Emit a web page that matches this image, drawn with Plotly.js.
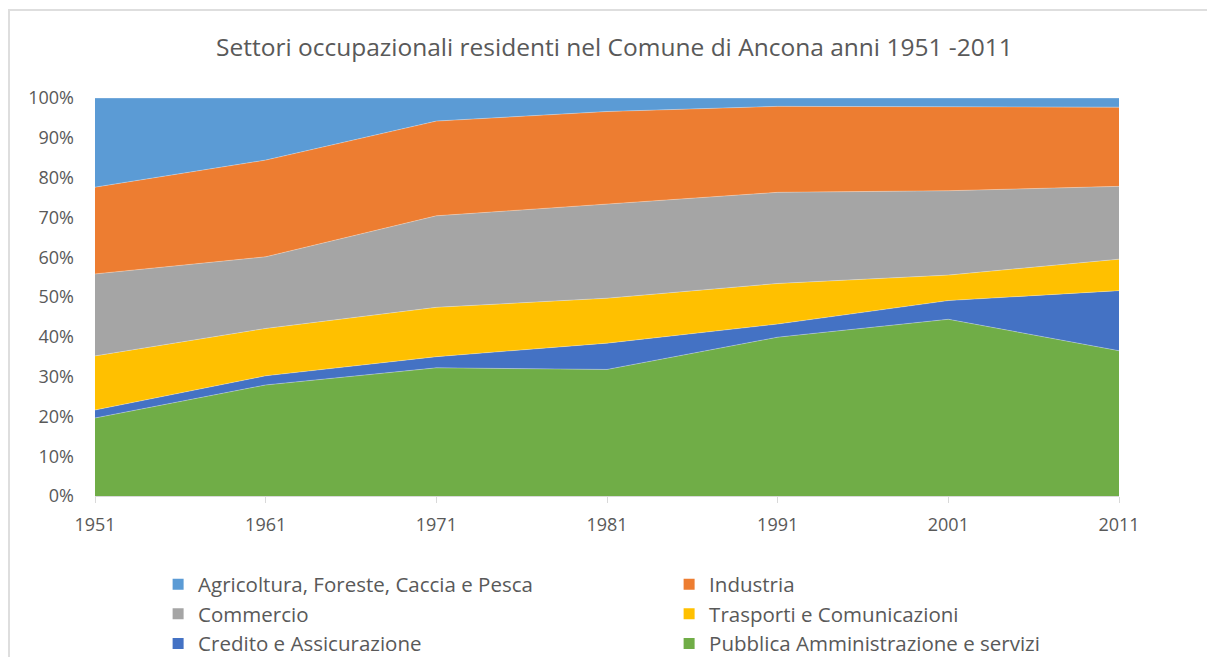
<!DOCTYPE html>
<html>
<head>
<meta charset="utf-8">
<script src="https://cdn.plot.ly/plotly-3.0.1.min.js"></script>
<style>
html,body{margin:0;padding:0;background:#fff;}
#frame{position:absolute;left:8px;top:9px;width:1210px;height:660px;border:2px solid #dedede;box-sizing:border-box;}
#chart{position:absolute;left:0;top:0;width:1207px;height:657px;}
</style>
</head>
<body>
<div id="frame"></div>
<div id="chart"></div>
<script>
const years = ['1951','1961','1971','1981','1991','2001','2011'];
const agricoltura = [22.4, 15.6, 5.8, 3.4, 2.1, 2.2, 2.3];
const industria = [21.8, 24.3, 23.8, 23.2, 21.6, 21.1, 19.9];
const commercio = [20.6, 18.0, 23.0, 23.7, 22.9, 21.2, 18.3];
const trasporti = [13.6, 11.9, 12.4, 11.3, 10.2, 6.4, 7.9];
const credito = [2.0, 2.3, 2.8, 6.6, 3.3, 4.7, 15.1];
const pubblica = [19.6, 27.9, 32.2, 31.8, 39.9, 44.4, 36.5];

const seriesNames = ['Pubblica Amministrazione e servizi','Credito e Assicurazione','Trasporti e Comunicazioni','Commercio','Industria','Agricoltura, Foreste, Caccia e Pesca'];
const seriesData = [pubblica, credito, trasporti, commercio, industria, agricoltura];
const colors = ['#70AD47','#4472C4','#FFC000','#A5A5A5','#ED7D31','#5B9BD5'];

const traces = seriesData.map((d, i) => ({
  type: 'scatter',
  mode: 'lines',
  x: years,
  y: d,
  name: seriesNames[i],
  stackgroup: 'one',
  groupnorm: i === 0 ? 'percent' : undefined,
  line: {width: 0.6, color: 'rgba(255,255,255,0.5)'},
  fillcolor: colors[i],
  showlegend: false,
  legendgroup: seriesNames[i],
  hoverinfo: 'x+y+name'
}));

// legend-only entries with square swatches (Excel style), in legend order
const legendOrder = [5, 4, 3, 2, 1, 0];
legendOrder.forEach(i => {
  traces.push({
    type: 'scatter',
    mode: 'markers',
    x: [null],
    y: [null],
    name: seriesNames[i],
    legendgroup: seriesNames[i],
    marker: {symbol: 'square', size: 11, color: colors[i]},
    showlegend: true,
    hoverinfo: 'skip'
  });
});

const layout = {
  width: 1207,
  height: 657,
  margin: {l: 95, r: 88, t: 98, b: 161},
  paper_bgcolor: 'rgba(0,0,0,0)',
  plot_bgcolor: '#fff',
  font: {family: 'Open Sans, sans-serif', color: '#595959'},
  title: {
    text: 'Settori occupazionali residenti nel Comune di Ancona anni 1951 -2011',
    font: {size: 24.5, color: '#595959'},
    x: 0.509, xanchor: 'center',
    y: 0.928, yanchor: 'middle'
  },
  xaxis: {
    type: 'category',
    range: [0, 6],
    showgrid: false,
    showline: true,
    linecolor: '#d9d9d9',
    linewidth: 1,
    ticks: 'outside',
    ticklen: 6,
    tickcolor: '#d9d9d9',
    tickfont: {size: 18, color: '#595959'},
    ticklabelstandoff: 6,
    zeroline: false
  },
  yaxis: {
    range: [0, 100],
    tickvals: [0,10,20,30,40,50,60,70,80,90,100],
    ticktext: ['0%','10%','20%','30%','40%','50%','60%','70%','80%','90%','100%'],
    showgrid: false,
    showline: false,
    zeroline: false,
    tickfont: {size: 18, color: '#595959'},
    ticks: '',
    ticklabelstandoff: 20
  },
  showlegend: true,
  legend: {
    orientation: 'h',
    traceorder: 'normal',
    xref: 'container', yref: 'container',
    x: 0.131, xanchor: 'left',
    y: 0.141, yanchor: 'top',
    entrywidth: 466,
    entrywidthmode: 'pixels',
    itemwidth: 30,
    font: {size: 20.5, color: '#595959'},
    tracegroupgap: 0,
    bgcolor: 'rgba(0,0,0,0)'
  }
};

Plotly.newPlot('chart', traces, layout, {displayModeBar: false, staticPlot: true});
</script>
</body>
</html>
